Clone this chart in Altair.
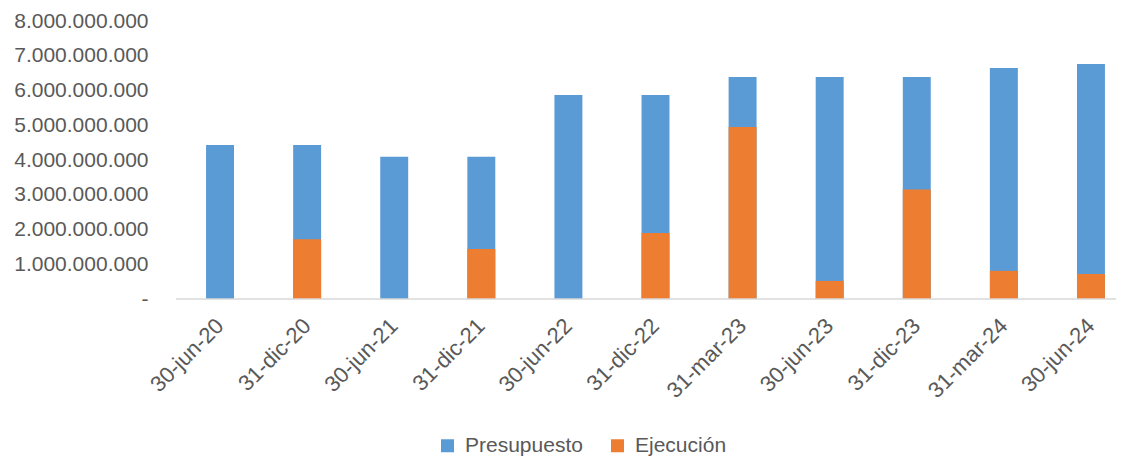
import altair as alt
import pandas as pd

fechas = ["30-jun-20", "31-dic-20", "30-jun-21", "31-dic-21", "30-jun-22", "31-dic-22",
          "31-mar-23", "30-jun-23", "31-dic-23", "31-mar-24", "30-jun-24"]
presupuesto = [4.43e9, 4.43e9, 4.09e9, 4.09e9, 5.87e9, 5.87e9,
               6.39e9, 6.39e9, 6.39e9, 6.65e9, 6.76e9]
ejecucion = [0, 1.72e9, 0, 1.44e9, 0, 1.90e9,
             4.95e9, 0.52e9, 3.15e9, 0.81e9, 0.72e9]
series = ["Presupuesto", "Ejecución"]
y_ticks = [0, 1e9, 2e9, 3e9, 4e9, 5e9, 6e9, 7e9, 8e9]

rows = []
for f, v in zip(fechas, presupuesto):
    rows.append({"fecha": f, "serie": series[0], "valor": v})
for f, v in zip(fechas, ejecucion):
    rows.append({"fecha": f, "serie": series[1], "valor": v})
df = pd.DataFrame(rows)

FONT = "Liberation Sans"
GREY = "#595959"
W, H = 921, 278

bars = alt.Chart(df).mark_bar().encode(
    x=alt.X("fecha:N", sort=fechas,
            scale=alt.Scale(paddingInner=0.679, paddingOuter=0.127),
            axis=alt.Axis(title=None, labelAngle=-45, labelAlign="right",
                          labelBaseline="middle", labelPadding=23, ticks=False,
                          domain=False,
                          labelFont=FONT, labelFontSize=22, labelColor=GREY)),
    y=alt.Y("valor:Q", stack=None,
            scale=alt.Scale(domain=[0, 8e9], nice=False),
            axis=alt.Axis(title=None, values=y_ticks, grid=False, domain=False,
                          ticks=False, labelPadding=47,
                          labelExpr="datum.value == 0 ? '-' : replace(format(datum.value, ','), /,/g, '.')",
                          labelFont=FONT, labelFontSize=21, labelColor=GREY)),
    color=alt.Color("serie:N", sort=series,
                    scale=alt.Scale(domain=series, range=["#5B9BD5", "#ED7D31"]),
                    legend=alt.Legend(title=None, orient="none", direction="horizontal",
                                      legendX=242, legendY=414, padding=0,
                                      symbolType="square", symbolSize=169,
                                      symbolStrokeWidth=0, symbolOpacity=1,
                                      labelOffset=7, columnPadding=24,
                                      labelFont=FONT, labelFontSize=21, labelColor=GREY)),
)

baseline = alt.Chart(pd.DataFrame({"b": [0]})).mark_rule(
    color="#D9D9D9", strokeWidth=1.5
).encode(x=alt.value(-19), x2=alt.value(W), y=alt.value(H))

chart = alt.layer(bars, baseline).properties(
    width=W,
    height=H,
    autosize=alt.AutoSizeParams(type="none"),
    padding={"left": 187, "top": 13, "right": 0, "bottom": 157},
).configure_view(stroke=None)

chart.save("out.html", embed_options={"renderer": "svg", "actions": False})
